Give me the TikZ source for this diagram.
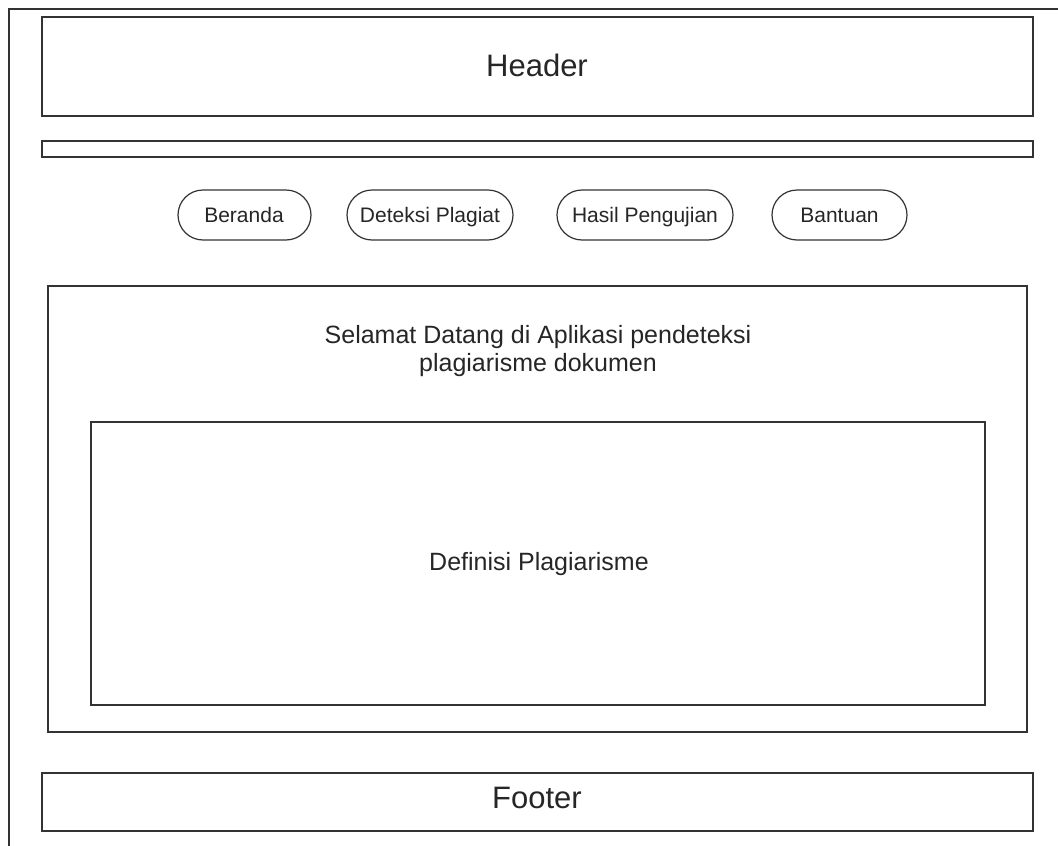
\documentclass[tikz,border=0pt]{standalone}
\usepackage{fontspec}
\setmainfont{Liberation Sans}
\begin{document}
\begin{tikzpicture}[x=1pt,y=-1pt,
  line/.style={draw=black!80, line width=1.2pt},
  panel/.style={line},
  menubtn/.style={line, rounded corners=25pt},
  lbl/.style={text=black!85, anchor=base, inner sep=0pt,
    font=\fontsize{#1}{#1}\selectfont},
]
\useasboundingbox (0,0) rectangle (1058,846);
\fill[white] (0,0) rectangle (1058,846);
% page frame
\draw[line] (9,846) -- (9,9) -- (1058,9);
% header
\draw[panel] (42,17) rectangle (1033,116);
\node[lbl=31] (header) at (537,76) {Header};
% navigation bar
\draw[panel] (42,141) rectangle (1033,157);
% menu buttons
\draw[menubtn] (178,190) rectangle (311,240);
\node[lbl=21] (beranda) at (244,222) {Beranda};
\draw[menubtn] (347,190) rectangle (513,240);
\node[lbl=21] (deteksi) at (430,222) {Deteksi Plagiat};
\draw[menubtn] (557,190) rectangle (733,240);
\node[lbl=21] (hasil) at (645,222) {Hasil Pengujian};
\draw[menubtn] (772,190) rectangle (907,240);
\node[lbl=21] (bantuan) at (839.5,222) {Bantuan};
% content area
\draw[panel] (48,286) rectangle (1027,732);
\node[lbl=25] (welcome) at (538,343) {Selamat Datang di Aplikasi pendeteksi};
\node[lbl=25] (welcome2) at (538,371) {plagiarisme dokumen};
\draw[panel] (91,422) rectangle (985,705);
\node[lbl=25] (definisi) at (539,570) {Definisi Plagiarisme};
% footer
\draw[panel] (42,773) rectangle (1033,831);
\node[lbl=31] (footer) at (537,808) {Footer};
\end{tikzpicture}
\end{document}
